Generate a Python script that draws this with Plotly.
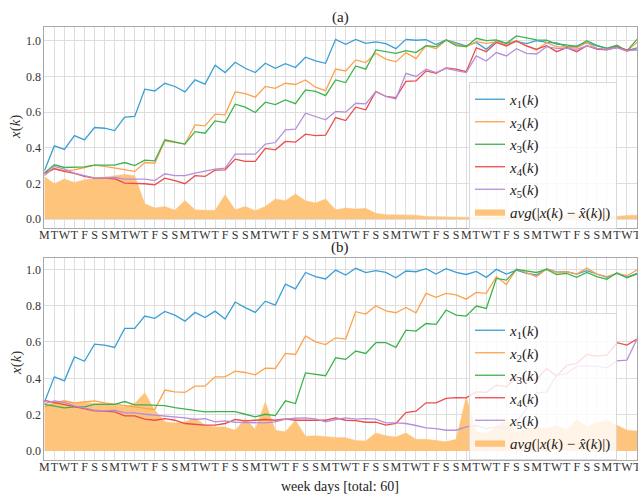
import plotly.graph_objects as go

days = ["M", "T", "W", "T", "F", "S", "S"] * 8 + ["M", "T", "W", "T"]
k = list(range(60))

# ---- panel (a) ----
a_x1 = [0.27, 0.41, 0.39, 0.468, 0.444, 0.513, 0.509, 0.496, 0.571, 0.575,
        0.728, 0.718, 0.761, 0.743, 0.713, 0.78, 0.756, 0.862, 0.821, 0.879,
        0.845, 0.821, 0.873, 0.845, 0.871, 0.849, 0.907, 0.886, 0.873, 1.007,
        0.979, 1.007, 0.985, 0.993, 0.983, 0.955, 1.007, 1.002, 1.006, 0.978,
        1.004, 0.985, 0.97, 0.99, 0.951, 1.0, 0.985, 0.996, 0.983, 1.0,
        0.99, 0.987, 0.966, 0.97, 0.99, 0.97, 0.957, 0.97, 0.944, 0.96]
a_x2 = [0.248, 0.282, 0.272, 0.276, 0.289, 0.302, 0.295, 0.285, 0.276, 0.267,
        0.317, 0.313, 0.438, 0.429, 0.42, 0.528, 0.522, 0.588, 0.584, 0.713,
        0.703, 0.683, 0.743, 0.733, 0.761, 0.754, 0.78, 0.739, 0.72, 0.841,
        0.83, 0.892, 0.877, 0.929, 0.896, 0.881, 0.933, 0.899, 0.972, 0.955,
        1.004, 0.981, 0.966, 0.994, 0.985, 0.994, 0.976, 1.0, 0.97, 0.948,
        0.988, 0.966, 0.963, 0.96, 0.988, 0.957, 0.948, 0.963, 0.942, 0.99]
a_x3 = [0.257, 0.304, 0.289, 0.291, 0.293, 0.302, 0.302, 0.302, 0.317, 0.30,
        0.33, 0.326, 0.444, 0.433, 0.42, 0.49, 0.481, 0.55, 0.541, 0.644,
        0.627, 0.597, 0.655, 0.642, 0.668, 0.647, 0.724, 0.715, 0.692, 0.78,
        0.765, 0.858, 0.84, 0.948, 0.938, 0.929, 0.944, 0.933, 0.972, 0.966,
        1.004, 0.972, 0.966, 1.013, 1.0, 1.004, 0.985, 1.026, 1.015, 1.004,
        1.002, 0.981, 0.976, 0.966, 1.0, 0.974, 0.957, 0.974, 0.942, 1.007]
a_x4 = [0.257, 0.282, 0.267, 0.256, 0.239, 0.229, 0.229, 0.226, 0.201, 0.201,
        0.198, 0.192, 0.229, 0.215, 0.198, 0.243, 0.239, 0.274, 0.276, 0.336,
        0.323, 0.323, 0.396, 0.388, 0.435, 0.431, 0.476, 0.468, 0.47, 0.569,
        0.552, 0.627, 0.612, 0.715, 0.687, 0.681, 0.772, 0.774, 0.83, 0.817,
        0.847, 0.84, 0.826, 0.96, 0.938, 0.99, 0.97, 0.998, 0.97, 0.951,
        0.972, 0.938, 0.96, 0.938, 0.972, 0.953, 0.948, 0.963, 0.948, 0.948]
a_x5 = [0.244, 0.295, 0.28, 0.257, 0.243, 0.231, 0.229, 0.233, 0.224, 0.224,
        0.224, 0.216, 0.254, 0.244, 0.244, 0.257, 0.267, 0.28, 0.285, 0.364,
        0.364, 0.364, 0.42, 0.429, 0.5, 0.504, 0.593, 0.575, 0.556, 0.603,
        0.599, 0.649, 0.646, 0.715, 0.687, 0.673, 0.817, 0.799, 0.84, 0.821,
        0.845, 0.832, 0.821, 0.914, 0.886, 0.933, 0.914, 0.955, 0.929, 0.925,
        0.966, 0.957, 0.957, 0.951, 0.97, 0.957, 0.951, 0.96, 0.942, 0.951]
a_avg = [0.239, 0.198, 0.224, 0.205, 0.22, 0.229, 0.235, 0.243, 0.25, 0.243,
         0.086, 0.062, 0.071, 0.049, 0.104, 0.052, 0.049, 0.049, 0.136, 0.052,
         0.071, 0.047, 0.071, 0.112, 0.103, 0.14, 0.103, 0.09, 0.112, 0.052,
         0.062, 0.056, 0.06, 0.032, 0.024, 0.024, 0.026, 0.022, 0.015, 0.013,
         0.01, 0.01, 0.01, 0.01, 0.012, 0.01, 0.012, 0.014, 0.012, 0.015,
         0.016, 0.02, 0.018, 0.03, 0.018, 0.03, 0.02, 0.015, 0.02, 0.022]

# ---- panel (b) ----
b_x1 = [0.267, 0.408, 0.386, 0.518, 0.494, 0.588, 0.583, 0.57, 0.675, 0.675,
        0.743, 0.73, 0.768, 0.748, 0.715, 0.763, 0.735, 0.77, 0.726, 0.82,
        0.789, 0.763, 0.825, 0.803, 0.919, 0.893, 0.983, 0.96, 0.947, 0.996,
        0.969, 1.006, 0.982, 0.993, 0.983, 0.954, 0.991, 0.987, 1.004, 0.974,
        1.004, 0.983, 0.972, 0.989, 0.956, 1.0, 0.974, 0.996, 0.978, 0.969,
        1.004, 0.985, 0.987, 0.974, 0.993, 0.974, 0.956, 0.978, 0.956, 0.978]
b_x2 = [0.243, 0.261, 0.276, 0.265, 0.27, 0.276, 0.265, 0.257, 0.25, 0.243,
        0.233, 0.228, 0.335, 0.325, 0.322, 0.357, 0.357, 0.408, 0.408, 0.439,
        0.432, 0.419, 0.456, 0.454, 0.537, 0.531, 0.634, 0.601, 0.586, 0.623,
        0.616, 0.767, 0.754, 0.8, 0.772, 0.761, 0.79, 0.761, 0.868, 0.846,
        0.868, 0.86, 0.836, 0.873, 0.868, 0.96, 0.917, 1.002, 0.982, 0.96,
        1.002, 0.982, 0.987, 0.974, 1.007, 0.974, 0.96, 0.978, 0.965, 0.996]
b_x3 = [0.256, 0.248, 0.237, 0.243, 0.243, 0.256, 0.256, 0.256, 0.272, 0.254,
        0.254, 0.254, 0.25, 0.239, 0.232, 0.221, 0.215, 0.217, 0.217, 0.217,
        0.202, 0.188, 0.202, 0.195, 0.276, 0.261, 0.43, 0.421, 0.414, 0.513,
        0.504, 0.55, 0.537, 0.596, 0.596, 0.57, 0.665, 0.66, 0.702, 0.697,
        0.776, 0.748, 0.743, 0.798, 0.785, 0.95, 0.941, 1.0, 0.991, 0.983,
        1.0, 0.972, 0.978, 0.956, 0.983, 0.96, 0.945, 0.982, 0.954, 0.974]
b_x4 = [0.279, 0.267, 0.256, 0.246, 0.233, 0.221, 0.219, 0.215, 0.193, 0.193,
        0.175, 0.169, 0.178, 0.169, 0.151, 0.145, 0.142, 0.142, 0.151, 0.173,
        0.165, 0.169, 0.173, 0.169, 0.176, 0.169, 0.169, 0.167, 0.169, 0.182,
        0.169, 0.167, 0.158, 0.158, 0.142, 0.151, 0.211, 0.219, 0.265, 0.265,
        0.289, 0.294, 0.292, 0.325, 0.322, 0.362, 0.353, 0.408, 0.39, 0.393,
        0.454, 0.412, 0.472, 0.482, 0.531, 0.522, 0.528, 0.596, 0.583, 0.616]
b_x5 = [0.261, 0.276, 0.267, 0.248, 0.237, 0.224, 0.221, 0.224, 0.21, 0.21,
        0.202, 0.197, 0.193, 0.184, 0.182, 0.173, 0.178, 0.16, 0.165, 0.158,
        0.158, 0.158, 0.154, 0.16, 0.175, 0.18, 0.182, 0.176, 0.16, 0.173,
        0.182, 0.175, 0.178, 0.175, 0.154, 0.154, 0.151, 0.14, 0.127, 0.123,
        0.114, 0.114, 0.132, 0.14, 0.123, 0.132, 0.123, 0.16, 0.233, 0.32,
        0.325, 0.417, 0.426, 0.467, 0.467, 0.467, 0.458, 0.496, 0.5, 0.616]
b_avg = [0.248, 0.27, 0.279, 0.265, 0.27, 0.261, 0.261, 0.252, 0.243, 0.261,
         0.32, 0.224, 0.16, 0.154, 0.16, 0.182, 0.142, 0.132, 0.132, 0.114,
         0.178, 0.119, 0.27, 0.114, 0.105, 0.169, 0.081, 0.083, 0.077, 0.074,
         0.072, 0.057, 0.055, 0.099, 0.083, 0.077, 0.099, 0.064, 0.064, 0.059,
         0.05, 0.064, 0.298, 0.105, 0.096, 0.132, 0.178, 0.105, 0.123, 0.132,
         0.123, 0.142, 0.114, 0.173, 0.136, 0.154, 0.169, 0.142, 0.114, 0.11]

colors = ["#3a9fd6", "#ffa24c", "#3db34d", "#ec4a4c", "#b590d8"]
fill_color = "#fec47c"
names = ["<i>x</i><sub>1</sub>(<i>k</i>)", "<i>x</i><sub>2</sub>(<i>k</i>)",
         "<i>x</i><sub>3</sub>(<i>k</i>)", "<i>x</i><sub>4</sub>(<i>k</i>)",
         "<i>x</i><sub>5</sub>(<i>k</i>)"]
avg_name = "<i>avg</i>(|<i>x</i>(<i>k</i>) \u2212 <i>x\u0302</i>(<i>k</i>)|)"

FONT = "Liberation Serif"

fig = go.Figure()

panels = [
    ("x", "y", "legend", [a_x1, a_x2, a_x3, a_x4, a_x5], a_avg),
    ("x2", "y2", "legend2", [b_x1, b_x2, b_x3, b_x4, b_x5], b_avg),
]
for xa, ya, lg, series, avg in panels:
    fig.add_trace(go.Scatter(
        x=k, y=avg, mode="lines", fill="tozeroy", fillcolor=fill_color,
        line=dict(color=fill_color, width=0.5), name=avg_name,
        xaxis=xa, yaxis=ya, legend=lg, legendrank=10))
    for i, s in enumerate(series):
        fig.add_trace(go.Scatter(
            x=k, y=s, mode="lines", line=dict(color=colors[i], width=1.3),
            name=names[i], xaxis=xa, yaxis=ya, legend=lg, legendrank=i + 1))

W, H = 638, 494
xdom = [44.3 / W, 637 / W]
axis_common = dict(showgrid=True, gridcolor="#dedede", gridwidth=1,
                   showline=True, linecolor="#a8a8a8", linewidth=1,
                   mirror=True, zeroline=False, ticks="", automargin=False,
                   tickfont=dict(family=FONT, size=12, color="#333"))
xaxis_extra = dict(range=[0, 59], tickmode="array", tickvals=k, ticktext=days,
                   tickangle=0, ticklabelstandoff=-4, ticklabeloverflow="allow")

fig.update_layout(
    width=W, height=H, margin=dict(l=0, r=0, t=0, b=0, autoexpand=False),
    paper_bgcolor="white", plot_bgcolor="white",
    font=dict(family=FONT, color="#222"),
    xaxis=dict(domain=xdom, anchor="y", **xaxis_extra, **axis_common),
    yaxis=dict(domain=[1 - 228 / H, 1 - 26.7 / H], range=[-0.05, 1.078],
               tickvals=[0, 0.2, 0.4, 0.6, 0.8, 1.0],
               ticktext=["0.0", "0.2", "0.4", "0.6", "0.8", "1.0"],
               anchor="x", **axis_common),
    xaxis2=dict(domain=xdom, anchor="y2", **xaxis_extra, **axis_common),
    yaxis2=dict(domain=[1 - 460 / H, 1 - 258.3 / H], range=[-0.05, 1.061],
                tickvals=[0, 0.2, 0.4, 0.6, 0.8, 1.0],
                ticktext=["0.0", "0.2", "0.4", "0.6", "0.8", "1.0"],
                anchor="x2", **axis_common),
    showlegend=True,
)

legend_common = dict(bgcolor="rgba(255,255,255,0.82)", bordercolor="#d8d8d8",
                     borderwidth=1, font=dict(family=FONT, size=15, color="#222"),
                     xanchor="left", yanchor="top", tracegroupgap=0,
                     itemwidth=30)
fig.update_layout(
    legend=dict(x=469 / W, y=1 - 82 / H, **legend_common),
    legend2=dict(x=469 / W, y=1 - 313 / H, **legend_common),
)

annots = [
    dict(text="(a)", x=340 / W, y=1 - 17 / H, size=15),
    dict(text="(b)", x=340 / W, y=1 - 248 / H, size=15),
    dict(text="week days [total: 60]", x=340 / W, y=1 - 486 / H, size=14),
]
for a in annots:
    fig.add_annotation(text=a["text"], x=a["x"], y=a["y"], xref="paper",
                       yref="paper", showarrow=False, xanchor="center",
                       yanchor="middle", font=dict(family=FONT, size=a["size"], color="#222"))
for yy in [127, 363]:
    fig.add_annotation(text="<i>x</i>(<i>k</i>)", x=16 / W, y=1 - yy / H,
                       xref="paper", yref="paper", showarrow=False,
                       textangle=-90, xanchor="center", yanchor="middle",
                       font=dict(family=FONT, size=15, color="#333"))

fig.write_html("out.html", config={"displayModeBar": False},
               post_script="document.body.style.margin='0';document.body.style.overflow='hidden';")
